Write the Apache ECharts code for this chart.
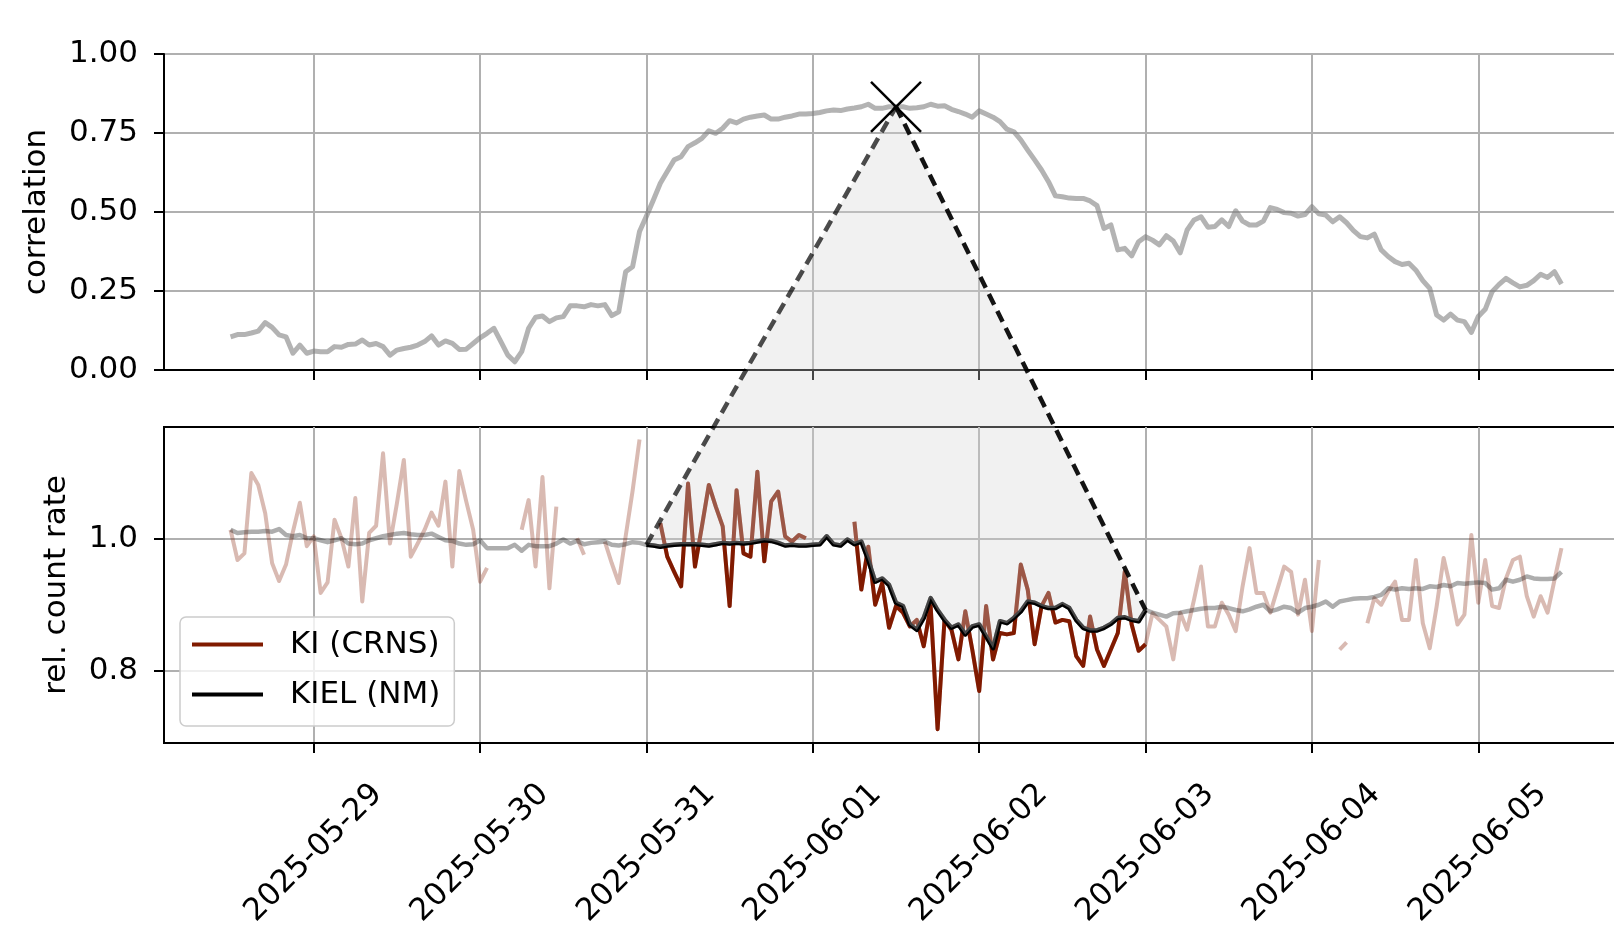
<!DOCTYPE html>
<html>
<head>
<meta charset="utf-8">
<title>correlation and relative count rate</title>
<script src="https://cdn.jsdelivr.net/npm/echarts@6/dist/echarts.min.js"></script>
<style>
  html, body { margin: 0; padding: 0; background: #fff; }
  #main { width: 1614px; height: 928px; }
</style>
</head>
<body>
<div id="main"></div>
<script>
// hourly values from 2025-05-28 12:00 to 2025-06-05 12:00
var firstTime = '2025-05-28T12:00:00';
var windowStart = '2025-05-31T00:00:00';
var windowEnd = '2025-06-03T00:00:00';
var peakTime = '2025-06-01T12:00:00';

var dayLabels = ['2025-05-29', '2025-05-30', '2025-05-31', '2025-06-01',
                 '2025-06-02', '2025-06-03', '2025-06-04', '2025-06-05'];
var countTicks = [0.8, 1.0];

var correlation = [
  0.105, 0.112, 0.112, 0.117, 0.123, 0.150, 0.135, 0.111, 0.105, 0.053, 0.079, 0.053,
  0.060, 0.058, 0.058, 0.074, 0.072, 0.081, 0.082, 0.095, 0.079, 0.084, 0.074, 0.047,
  0.063, 0.068, 0.072, 0.079, 0.090, 0.108, 0.079, 0.092, 0.084, 0.065, 0.066, 0.084,
  0.102, 0.116, 0.132, 0.090, 0.047, 0.026, 0.058, 0.132, 0.167, 0.171, 0.153, 0.165,
  0.169, 0.203, 0.203, 0.200, 0.207, 0.203, 0.207, 0.172, 0.184, 0.311, 0.327, 0.438,
  0.487, 0.538, 0.591, 0.628, 0.665, 0.675, 0.707, 0.719, 0.733, 0.757, 0.749, 0.765,
  0.789, 0.782, 0.794, 0.800, 0.804, 0.807, 0.794, 0.794, 0.800, 0.804, 0.810, 0.810,
  0.812, 0.815, 0.820, 0.823, 0.821, 0.826, 0.829, 0.833, 0.841, 0.828, 0.828, 0.833,
  0.833, 0.833, 0.828, 0.830, 0.833, 0.841, 0.835, 0.836, 0.825, 0.818, 0.810, 0.800,
  0.820, 0.810, 0.800, 0.786, 0.762, 0.754, 0.728, 0.696, 0.665, 0.633, 0.596, 0.551,
  0.548, 0.544, 0.543, 0.543, 0.535, 0.520, 0.448, 0.459, 0.380, 0.385, 0.361, 0.406,
  0.422, 0.411, 0.396, 0.425, 0.408, 0.371, 0.443, 0.475, 0.485, 0.452, 0.454, 0.475,
  0.454, 0.504, 0.471, 0.459, 0.459, 0.471, 0.514, 0.508, 0.498, 0.496, 0.487, 0.492,
  0.517, 0.494, 0.490, 0.469, 0.485, 0.466, 0.441, 0.422, 0.418, 0.430, 0.380, 0.359,
  0.343, 0.334, 0.338, 0.316, 0.283, 0.258, 0.174, 0.158, 0.177, 0.158, 0.153, 0.119,
  0.169, 0.192, 0.248, 0.271, 0.290, 0.276, 0.263, 0.268, 0.283, 0.303, 0.293, 0.311, 0.272
];

// KI (CRNS), null = no data
var crns = [
  1.014, 0.968, 0.978, 1.100, 1.082, 1.039, 0.963, 0.936, 0.961, 1.011, 1.055, 0.989,
  1.004, 0.918, 0.934, 1.029, 1.001, 0.958, 1.062, 0.905, 1.009, 1.020, 1.130, 0.993,
  1.054, 1.120, 0.973, 0.993, 1.014, 1.040, 1.020, 1.087, 0.958, 1.103, 1.057, 1.014,
  0.935, 0.956, null, null, null, null, 1.014, 1.059, 0.958, 1.094, 0.925, 1.049,
  null, null, 1.001, 0.976, null, null, 0.996, 0.963, 0.933, 1.004, 1.073, 1.151,
  null, null, 1.024, 0.973, 0.950, 0.928, 1.084, 0.958, 1.019, 1.082, 1.049, 1.019,
  0.898, 1.074, 0.978, 0.973, 1.102, 0.966, 1.057, 1.072, 1.004, 0.996, 1.006, 1.001,
  null, null, null, null, null, null, 1.026, 0.923, 0.988, 0.900, 0.933, 0.865,
  0.898, 0.888, 0.867, 0.877, 0.837, 0.898, 0.711, 0.877, 0.862, 0.817, 0.890, 0.832,
  0.769, 0.898, 0.817, 0.857, 0.855, 0.857, 0.961, 0.923, 0.840, 0.898, 0.918, 0.873,
  0.877, 0.875, 0.822, 0.807, 0.882, 0.832, 0.807, 0.832, 0.857, 0.950, 0.870, 0.830,
  0.840, 0.887, 0.877, 0.867, 0.817, 0.888, 0.862, 0.908, 0.958, 0.867, 0.867, 0.903,
  0.885, 0.860, 0.928, 0.986, 0.918, 0.918, 0.888, 0.923, 0.958, 0.950, 0.885, 0.938,
  0.860, 0.968, null, null, 0.832, 0.843, null, null, 0.872, 0.910, 0.900, 0.920,
  0.935, 0.877, 0.877, 0.968, 0.872, 0.834, 0.898, 0.971, 0.925, 0.870, 0.885, 1.006,
  0.903, 0.968, 0.898, 0.895, 0.940, 0.968, 0.973, 0.913, 0.882, 0.913, 0.888, 0.938, 0.986
];

// KIEL (NM)
var nm = [
  1.014, 1.009, 1.010, 1.011, 1.011, 1.012, 1.011, 1.015, 1.006, 1.004, 1.006, 1.001,
  1.001, 0.998, 0.995, 0.998, 1.001, 0.993, 0.992, 0.993, 0.998, 1.001, 1.004, 1.006,
  1.008, 1.009, 1.007, 1.006, 1.006, 1.008, 1.003, 0.998, 0.997, 0.993, 0.991, 0.992,
  0.998, 0.986, 0.986, 0.986, 0.986, 0.991, 0.982, 0.991, 0.989, 0.989, 0.989, 0.993,
  0.999, 0.993, 0.997, 0.992, 0.994, 0.995, 0.996, 0.991, 0.990, 0.992, 0.995, 0.994,
  0.991, 0.990, 0.988, 0.990, 0.991, 0.992, 0.992, 0.992, 0.991, 0.990, 0.992, 0.994,
  0.993, 0.994, 0.993, 0.994, 0.996, 0.998, 0.997, 0.994, 0.990, 0.991, 0.990, 0.990,
  0.991, 0.992, 1.004, 0.992, 0.990, 0.999, 0.992, 0.996, 0.968, 0.935, 0.940, 0.930,
  0.903, 0.898, 0.870, 0.862, 0.880, 0.910, 0.892, 0.877, 0.865, 0.870, 0.855, 0.867,
  0.870, 0.852, 0.834, 0.875, 0.872, 0.880, 0.890, 0.905, 0.903, 0.898, 0.895, 0.895,
  0.901, 0.895, 0.877, 0.865, 0.861, 0.861, 0.865, 0.871, 0.880, 0.881, 0.877, 0.875,
  0.892, 0.888, 0.885, 0.882, 0.887, 0.888, 0.890, 0.892, 0.894, 0.895, 0.895, 0.897,
  0.895, 0.892, 0.890, 0.893, 0.897, 0.900, 0.890, 0.893, 0.897, 0.895, 0.888, 0.895,
  0.897, 0.900, 0.905, 0.897, 0.905, 0.907, 0.909, 0.910, 0.910, 0.912, 0.915, 0.925,
  0.923, 0.925, 0.924, 0.925, 0.924, 0.928, 0.927, 0.930, 0.928, 0.933, 0.932, 0.933,
  0.934, 0.933, 0.923, 0.925, 0.938, 0.935, 0.938, 0.943, 0.940, 0.939, 0.939, 0.940, 0.950
];

var FONT = 'DejaVu Sans';
var FS = 31;
var HOUR = 3600 * 1000;

var t0 = new Date(firstTime).getTime();
var times = correlation.map(function (v, i) { return t0 + i * HOUR; });
var tStart = new Date(windowStart).getTime();
var tEnd = new Date(windowEnd).getTime();
var tPeak = new Date(peakTime).getTime();
var tickTimes = dayLabels.map(function (d) { return new Date(d + 'T00:00:00').getTime(); });

// same 5% padding as matplotlib
var span = times[times.length - 1] - times[0];
var xMin = times[0] - 0.05 * span;
var xMax = times[times.length - 1] + 0.05 * span;

function pairs(values, from, to) {
  return values.map(function (v, i) {
    var t = times[i];
    var keep = from == null || (t >= from && t <= to);
    return [t, keep ? v : null];
  });
}

function xAxisFor(gridIndex, withLabels) {
  return {
    type: 'value',
    gridIndex: gridIndex,
    min: xMin,
    max: xMax,
    axisLine: { show: true, onZero: false, lineStyle: { color: '#000', width: 2 } },
    axisTick: { show: true, customValues: tickTimes, length: 10, lineStyle: { color: '#000', width: 2 } },
    axisLabel: {
      show: withLabels,
      customValues: tickTimes,
      rotate: 45,
      align: 'center',
      verticalAlign: 'middle',
      margin: 110,
      fontSize: FS,
      fontFamily: FONT,
      color: '#000',
      formatter: function (v) {
        var i = tickTimes.indexOf(v);
        return i >= 0 ? dayLabels[i] : '';
      }
    },
    splitLine: { show: true, lineStyle: { color: '#b0b0b0', width: 2 } }
  };
}

var axisLineStyle = { show: true, onZero: false, lineStyle: { color: '#000', width: 2 } };
var labelStyle = { fontSize: FS, fontFamily: FONT, color: '#000', margin: 26 };
var nameStyle = { fontSize: FS, fontFamily: FONT, color: '#000' };

var myChart = echarts.init(document.getElementById('main'));

// the right edge of the axes lies past the picture, as in the original figure
var gridBase = { left: 164, width: 1464, height: 316, show: true, borderColor: '#000', borderWidth: 2, outerBoundsMode: 'none', containLabel: false };

var option = {
  animation: false,
  backgroundColor: '#fff',
  grid: [
    Object.assign({ top: 54 }, gridBase),
    Object.assign({ top: 427 }, gridBase)
  ],
  xAxis: [xAxisFor(0, false), xAxisFor(1, true)],
  yAxis: [
    {
      type: 'value', gridIndex: 0, min: 0, max: 1, interval: 0.25,
      name: 'correlation', nameLocation: 'middle', nameGap: 112, nameTextStyle: nameStyle,
      axisLine: axisLineStyle,
      axisTick: { show: true, length: 10, lineStyle: { color: '#000', width: 2 } },
      axisLabel: Object.assign({ formatter: function (v) { return v.toFixed(2); } }, labelStyle),
      splitLine: { show: true, lineStyle: { color: '#b0b0b0', width: 2 } }
    },
    {
      type: 'value', gridIndex: 1, min: 0.69, max: 1.17,
      name: 'rel. count rate', nameLocation: 'middle', nameGap: 92, nameTextStyle: nameStyle,
      axisLine: axisLineStyle,
      axisTick: { show: true, customValues: countTicks, length: 10, lineStyle: { color: '#000', width: 2 } },
      axisLabel: Object.assign({ customValues: countTicks, formatter: function (v) { return v.toFixed(1); } }, labelStyle),
      splitLine: { show: true, lineStyle: { color: '#b0b0b0', width: 2 } }
    }
  ],
  legend: {
    orient: 'vertical',
    left: 180,
    top: 617,
    data: [{ name: 'KI (CRNS)', icon: 'rect' }, { name: 'KIEL (NM)', icon: 'rect' }],
    itemWidth: 71,
    itemHeight: 4,
    itemGap: 19,
    padding: [12, 14, 16, 12],
    backgroundColor: 'rgba(255,255,255,0.8)',
    borderColor: '#cccccc',
    borderWidth: 1.5,
    borderRadius: 6,
    selectedMode: false,
    textStyle: { fontSize: FS, fontFamily: FONT, color: '#000', lineHeight: 31, padding: [0, 0, 0, 22] }
  },
  series: [
    {
      name: 'correlation', type: 'line', xAxisIndex: 0, yAxisIndex: 0,
      data: pairs(correlation), showSymbol: false, silent: true,
      itemStyle: { color: 'rgba(128,128,128,0.6)' },
      lineStyle: { color: 'rgba(128,128,128,0.6)', width: 5, join: 'round' }
    },
    {
      name: 'KI all', type: 'line', xAxisIndex: 1, yAxisIndex: 1,
      data: pairs(crns), showSymbol: false, silent: true, connectNulls: false,
      itemStyle: { color: 'rgba(128,26,0,0.3)' },
      lineStyle: { color: 'rgba(128,26,0,0.3)', width: 4, join: 'round' }
    },
    {
      name: 'KIEL all', type: 'line', xAxisIndex: 1, yAxisIndex: 1,
      data: pairs(nm), showSymbol: false, silent: true,
      itemStyle: { color: 'rgba(0,0,0,0.32)' },
      lineStyle: { color: 'rgba(0,0,0,0.32)', width: 4.5, join: 'round' }
    },
    {
      name: 'KI (CRNS)', type: 'line', xAxisIndex: 1, yAxisIndex: 1,
      data: pairs(crns, tStart, tEnd), showSymbol: false, silent: true, connectNulls: false,
      itemStyle: { color: '#801a00' },
      lineStyle: { color: '#801a00', width: 4, join: 'round' }
    },
    {
      name: 'KIEL (NM)', type: 'line', xAxisIndex: 1, yAxisIndex: 1,
      data: pairs(nm, tStart, tEnd), showSymbol: false, silent: true,
      itemStyle: { color: '#000' },
      lineStyle: { color: '#000', width: 4.5, join: 'round' }
    }
  ]
};

myChart.setOption(option);

// shaded link: correlation point above, NM curve of the window below
var iStart = times.indexOf(tStart);
var iEnd = times.indexOf(tEnd);
var iPeak = times.indexOf(tPeak);
var pPeak = myChart.convertToPixel({ gridIndex: 0 }, [tPeak, correlation[iPeak]]);
var nmPath = [];
for (var i = iStart; i <= iEnd; i++) {
  nmPath.push(myChart.convertToPixel({ gridIndex: 1 }, [times[i], nm[i]]));
}
var pStart = nmPath[0];
var pEnd = nmPath[nmPath.length - 1];
var cross = 25;

myChart.setOption({
  graphic: [
    {
      type: 'polygon', silent: true, z: 100,
      shape: { points: [pPeak].concat(nmPath.slice().reverse()) },
      style: { fill: 'rgba(211,211,211,0.33)' }
    },
    {
      type: 'line', silent: true, z: 101,
      shape: { x1: pStart[0], y1: pStart[1], x2: pPeak[0], y2: pPeak[1] },
      style: { stroke: 'rgba(0,0,0,0.7)', lineWidth: 4.5, lineDash: [12, 7] }
    },
    {
      type: 'line', silent: true, z: 101,
      shape: { x1: pPeak[0], y1: pPeak[1], x2: pEnd[0], y2: pEnd[1] },
      style: { stroke: 'rgba(0,0,0,0.92)', lineWidth: 4.5, lineDash: [12, 7] }
    },
    {
      type: 'line', silent: true, z: 102,
      shape: { x1: pPeak[0] - cross, y1: pPeak[1] - cross, x2: pPeak[0] + cross, y2: pPeak[1] + cross },
      style: { stroke: '#000', lineWidth: 2.5 }
    },
    {
      type: 'line', silent: true, z: 102,
      shape: { x1: pPeak[0] - cross, y1: pPeak[1] + cross, x2: pPeak[0] + cross, y2: pPeak[1] - cross },
      style: { stroke: '#000', lineWidth: 2.5 }
    }
  ]
});
</script>
</body>
</html>
